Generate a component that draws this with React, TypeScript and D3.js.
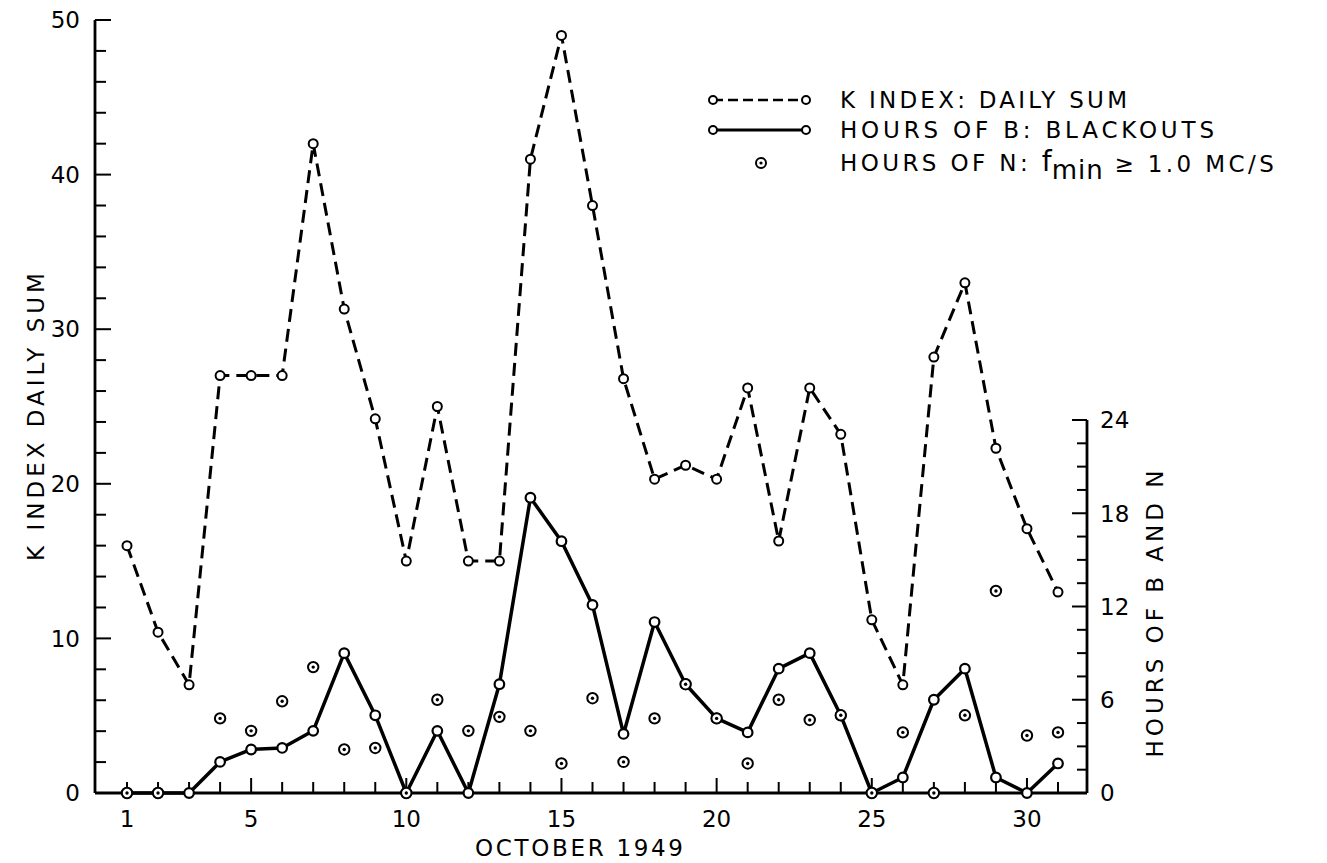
import React from "react";
import * as d3 from "d3";

const days = [1,2,3,4,5,6,7,8,9,10,11,12,13,14,15,16,17,18,19,20,21,22,23,24,25,26,27,28,29,30,31];
const kIndexSum = [16,10.4,7,27,27,27,42,31.3,24.2,15,25,15,15,41,49,38,26.8,20.3,21.2,20.3,26.2,16.3,26.2,23.2,11.2,7,28.2,33,22.3,17.1,13];
const blackoutHours = [0,0,0,2,2.8,2.9,4,9,5,0,4,0,7,19,16.2,12.1,3.8,11,7,4.8,3.9,8,9,5,0,1,6,8,1,0,1.9];
const nHours: (number | null)[] = [0,0,null,4.8,4,5.9,8.1,2.8,2.9,0,6,4,4.9,4,1.9,6.1,2,4.8,7,4.8,1.9,6,4.7,5,0,3.9,0,5,13,3.7,3.9];
const xTickLabels = [1,5,10,15,20,25,30];
const leftTickLabels = [0,10,20,30,40,50];
const rightTickLabels = [0,6,12,18,24];

const FONT = "'DejaVu Sans', sans-serif";

export default function App() {
  const x = d3.scaleLinear().domain([1, 31]).range([127, 1058]);
  const yK = d3.scaleLinear().domain([0, 50]).range([793, 20]);
  const yH = d3.scaleLinear().domain([0, 24]).range([793, 420]);
  const axisLeftX = 95;
  const axisRightX = 1087;
  const baseY = 793;

  const kLine = d3.line<number>().x((_, i) => x(days[i])).y((d) => yK(d));
  const bLine = d3.line<number>().x((_, i) => x(days[i])).y((d) => yH(d));

  const leftTicks = d3.range(0, 51, 2);
  const rightTicks = d3.range(0, 24.01, 1.5);

  return (
    <svg width={1327} height={863} style={{ position: "absolute", left: 0, top: 0, background: "#fff" }} fontFamily={FONT}>
      <rect x={0} y={0} width={1327} height={863} fill="#fff" />
      {/* axes */}
      <line x1={axisLeftX} y1={yK(50)} x2={axisLeftX} y2={baseY} stroke="#000" strokeWidth={2.8} />
      <line x1={axisLeftX} y1={baseY} x2={axisRightX} y2={baseY} stroke="#000" strokeWidth={2.8} />
      <line x1={axisRightX} y1={yH(24)} x2={axisRightX} y2={baseY} stroke="#000" strokeWidth={2.8} />
      {leftTicks.map((t) => (
        <line key={"lt" + t} x1={axisLeftX} x2={axisLeftX + (t % 10 === 0 ? 16 : 11)} y1={yK(t)} y2={yK(t)} stroke="#000" strokeWidth={2} />
      ))}
      {rightTicks.map((t) => (
        <line key={"rt" + t} x1={axisRightX} x2={axisRightX - (t % 6 === 0 ? 15 : 10)} y1={yH(t)} y2={yH(t)} stroke="#000" strokeWidth={2} />
      ))}
      {days.map((d) => (
        <line key={"bt" + d} x1={x(d)} x2={x(d)} y1={baseY} y2={baseY - (d % 5 === 0 ? 15 : 11)} stroke="#000" strokeWidth={2} />
      ))}
      {leftTickLabels.map((t) => (
        <text key={"ll" + t} x={80} y={yK(t)} dy="0.36em" textAnchor="end" fontSize={23}>{t}</text>
      ))}
      {rightTickLabels.map((t) => (
        <text key={"rl" + t} x={1100} y={yH(t)} dy="0.36em" textAnchor="start" fontSize={23}>{t}</text>
      ))}
      {xTickLabels.map((t) => (
        <text key={"xl" + t} x={x(t)} y={827} textAnchor="middle" fontSize={23}>{t}</text>
      ))}
      <text x={475} y={856} fontSize={23} textLength={208} lengthAdjust="spacing">OCTOBER 1949</text>
      <text transform="translate(44,415) rotate(-90)" textAnchor="middle" fontSize={23} letterSpacing={4}>K INDEX DAILY SUM</text>
      <text transform="translate(1163,612) rotate(-90)" textAnchor="middle" fontSize={23} letterSpacing={4}>HOURS OF B AND N</text>

      {/* series lines */}
      <path d={kLine(kIndexSum) || ""} fill="none" stroke="#000" strokeWidth={3} strokeDasharray="13 7" />
      <path d={bLine(blackoutHours) || ""} fill="none" stroke="#000" strokeWidth={3.5} strokeLinejoin="round" />

      {/* markers */}
      {kIndexSum.map((v, i) => (
        <circle key={"kc" + i} cx={x(days[i])} cy={yK(v)} r={4.5} fill="#fff" stroke="#000" strokeWidth={2} />
      ))}
      {blackoutHours.map((v, i) => (
        <circle key={"bc" + i} cx={x(days[i])} cy={yH(v)} r={4.8} fill="#fff" stroke="#000" strokeWidth={2.2} />
      ))}
      {nHours.map((v, i) =>
        v === null ? null : (
          <g key={"nc" + i}>
            <circle cx={x(days[i])} cy={yH(v)} r={5.2} fill="#fff" stroke="#000" strokeWidth={2} />
            <circle cx={x(days[i])} cy={yH(v)} r={1.7} fill="#000" />
          </g>
        )
      )}

      {/* legend */}
      <g>
        <line x1={713} x2={806} y1={100} y2={100} stroke="#000" strokeWidth={2.5} strokeDasharray="10 5" />
        <circle cx={713} cy={100} r={4} fill="#fff" stroke="#000" strokeWidth={2} />
        <circle cx={806} cy={100} r={4} fill="#fff" stroke="#000" strokeWidth={2} />
        <text x={840} y={100} dy="0.36em" fontSize={23} textLength={287} lengthAdjust="spacing">K INDEX: DAILY SUM</text>

        <line x1={713} x2={806} y1={130} y2={130} stroke="#000" strokeWidth={3} />
        <circle cx={713} cy={130} r={4} fill="#fff" stroke="#000" strokeWidth={2} />
        <circle cx={806} cy={130} r={4} fill="#fff" stroke="#000" strokeWidth={2} />
        <text x={840} y={130} dy="0.36em" fontSize={23} textLength={374} lengthAdjust="spacing">HOURS OF B: BLACKOUTS</text>

        <circle cx={761} cy={163} r={5} fill="#fff" stroke="#000" strokeWidth={2} />
        <circle cx={761} cy={163} r={1.6} fill="#000" />
        <text x={840} y={163} dy="0.36em" fontSize={23} letterSpacing={3.4}>
          HOURS OF N:{" "}
          <tspan fontSize={28} letterSpacing={0}>f</tspan>
          <tspan fontSize={26} dy="0.3em" letterSpacing={1}>min</tspan>
          <tspan fontSize={23} dy="-0.3em"> ≥ 1.0 MC/S</tspan>
        </text>
      </g>
    </svg>
  );
}
